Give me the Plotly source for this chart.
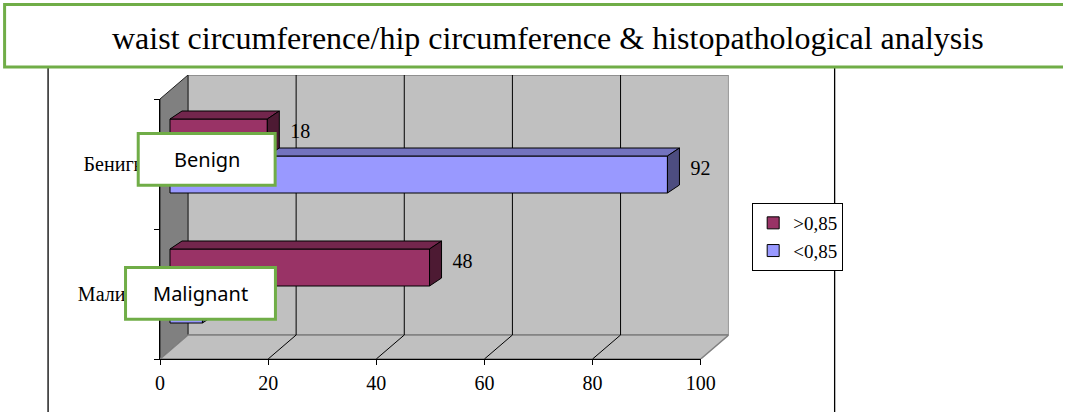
import plotly.graph_objects as go

# ---------------- data ----------------
categories = ["Малигни", "Бенигни"]          # bottom -> top
series_names = [">0,85", "<0,85"]
above_085 = [48, 18]
below_085 = [6, 92]
x_ticks = [0, 20, 40, 60, 80, 100]
box_labels = ["Malignant", "Benign"]
title_text = "waist circumference/hip circumference & histopathological analysis"
hidden_value_labels = [("<0,85", 0)]   # label lies under the "Malignant" box in the original

# ---------------- geometry / style ----------------
W, H = 1078, 412
XS, XO = 0.982, 4.9     # horizontal compensation for the capture
PX_X = 541 / 100.0      # pixels per x unit
PX_Y = 260 / 2.0        # pixels per category unit
WALL_PX = (28, 24)
WDX, WDY = WALL_PX[0] / PX_X, WALL_PX[1] / PX_Y      # wall depth
SDX, SDY = 10 / PX_X, 8 / PX_Y       # bar plane shift
BDX, BDY = 12 / PX_X, 8 / PX_Y       # bar depth
LBL_DX, LBL_DY = 11 / PX_X, 5 / PX_Y # value label offset
BAR_W = 37 / PX_Y

def pxx(p):
    return ((p - XO) / XS) / W

def pxy(p):
    return 1 - p / H

SERIF = "Liberation Serif, Times New Roman, serif"
colors = {
    ">0,85": ("#993366", "#73264D", "#4D1A33"),
    "<0,85": ("#9999FF", "#7373BF", "#4D4D80"),
}

fig = go.Figure()
idx = list(range(len(categories)))

# bars on (x2, y2): the bar plane, shifted into depth
series = [("<0,85", below_085, -BAR_W), (">0,85", above_085, 0.0)]
for name, vals, off in series:
    front, top, side = colors[name]
    fig.add_trace(go.Bar(
        x=vals, y=idx, orientation="h", base=0, width=BAR_W, offset=off,
        marker=dict(color=front, line=dict(color="black", width=1)),
        name=name, legendrank=1 if name == ">0,85" else 2,
        xaxis="x2", yaxis="y2", hoverinfo="skip",
    ))
for name, vals, off in series:
    front, top, side = colors[name]
    for i, v in zip(idx, vals):
        y0 = i + off
        y1 = y0 + BAR_W
        fig.add_trace(go.Scatter(
            x=[0, v, v + BDX, BDX, 0], y=[y1, y1, y1 + BDY, y1 + BDY, y1],
            mode="lines", fill="toself", fillcolor=top,
            line=dict(color="black", width=1), showlegend=False,
            xaxis="x2", yaxis="y2", hoverinfo="skip"))
        fig.add_trace(go.Scatter(
            x=[v, v + BDX, v + BDX, v, v], y=[y0, y0 + BDY, y1 + BDY, y1, y0],
            mode="lines", fill="toself", fillcolor=side,
            line=dict(color="black", width=1), showlegend=False,
            xaxis="x2", yaxis="y2", hoverinfo="skip"))

# value labels
for name, vals, off in series:
    fig.add_trace(go.Scatter(
        x=[v + BDX + LBL_DX for v in vals],
        y=[i + off + BAR_W / 2 + LBL_DY for i in idx],
        mode="text",
        text=["" if (name, i) in hidden_value_labels else str(v) for i, v in zip(idx, vals)],
        textposition="middle right",
        textfont=dict(family=SERIF, size=20, color="black"), cliponaxis=False,
        showlegend=False, xaxis="x2", yaxis="y2", hoverinfo="skip"))

# invisible trace so the front category axis (x3, y3) gets its categories
fig.add_trace(go.Scatter(x=[None] * len(categories), y=categories, mode="markers",
                         marker=dict(opacity=0), showlegend=False,
                         xaxis="x3", yaxis="y3", hoverinfo="skip"))

annotations = []
shapes = []
def poly(pts, close=True):
    return "M " + " L ".join(f"{x},{y}" for x, y in pts) + (" Z" if close else "")

# walls, floor, gridlines on the (x, y) wall system: x in value units, y in category units
shapes.append(dict(type="path", xref="x", yref="y", layer="below",
                   path=poly([(WDX, -0.5 + WDY), (100 + WDX, -0.5 + WDY),
                              (100 + WDX, 1.5 + WDY), (WDX, 1.5 + WDY)]),
                   fillcolor="#C0C0C0", line=dict(color="#808080", width=1.5)))
shapes.append(dict(type="path", xref="x", yref="y", layer="below",
                   path=poly([(0, -0.5), (0, 1.5), (WDX, 1.5 + WDY), (WDX, -0.5 + WDY)]),
                   fillcolor="#808080", line=dict(color="#202020", width=1)))
shapes.append(dict(type="path", xref="x", yref="y", layer="below",
                   path=poly([(0, -0.5), (100, -0.5), (100 + WDX, -0.5 + WDY), (WDX, -0.5 + WDY)]),
                   fillcolor="#C0C0C0", line=dict(color="#808080", width=1.5)))
for t in x_ticks[1:-1]:
    shapes.append(dict(type="line", xref="x", yref="y", layer="below",
                       x0=t + WDX, x1=t + WDX, y0=-0.5 + WDY, y1=1.5 + WDY,
                       line=dict(color="black", width=1)))
    shapes.append(dict(type="line", xref="x", yref="y", layer="below",
                       x0=t, x1=t + WDX, y0=-0.5, y1=-0.5 + WDY,
                       line=dict(color="black", width=1)))

# outer frame lines
for xp in (48, 835):
    shapes.append(dict(type="line", xref="paper", yref="paper",
                       x0=pxx(xp), x1=pxx(xp), y0=0, y1=pxy(68),
                       line=dict(color="black", width=1.3)))

GREEN = "#70AD47"
# title box (open on the right, runs off the page edge)
shapes.append(dict(type="path", xref="paper", yref="paper", layer="above",
                   path=poly([(1.0, pxy(67)), (pxx(4.5), pxy(67)),
                              (pxx(4.5), pxy(4.5)), (1.0, pxy(4.5))], close=False),
                   fillcolor="white", line=dict(color=GREEN, width=3)))
annotations.append(dict(x=pxx(548.5), y=pxy(38), xref="paper", yref="paper",
                        text=title_text, showarrow=False, xanchor="center", yanchor="middle",
                        font=dict(family=SERIF, size=32, color="black")))

# category overlay boxes
boxes = {"Benign": (138.2, 275.2, 133.5, 185.2), "Malignant": (125.5, 275.5, 267.5, 319.2)}
for lab in box_labels:
    x0, x1, y0, y1 = boxes[lab]
    shapes.append(dict(type="rect", xref="paper", yref="paper", layer="above",
                       x0=pxx(x0), x1=pxx(x1), y0=pxy(y1), y1=pxy(y0),
                       fillcolor="white", line=dict(color=GREEN, width=3)))
    annotations.append(dict(x=pxx((x0 + x1) / 2), y=pxy((y0 + y1) / 2), xref="paper", yref="paper",
                            text=lab, showarrow=False, xanchor="center", yanchor="middle",
                            font=dict(family="Noto Sans, sans-serif", size=20, color="black")))

front_x = (160, 701)
front_y = (359, 99)
xdom = [pxx(front_x[0]), pxx(front_x[1])]
ydom = [pxy(front_y[0]), pxy(front_y[1])]
wall_xdom = [pxx(front_x[0]), pxx(front_x[1] + WALL_PX[0])]
wall_ydom = [pxy(front_y[0]), pxy(front_y[1] - WALL_PX[1])]
fig.update_layout(
    width=W, height=H, autosize=False,
    margin=dict(l=0, r=0, t=0, b=0, pad=0),
    paper_bgcolor="white", plot_bgcolor="rgba(0,0,0,0)",
    barmode="overlay",
    showlegend=True,
    legend=dict(x=pxx(752.5), y=pxy(203), xanchor="left", yanchor="top",
                bgcolor="white", bordercolor="black", borderwidth=1,
                font=dict(family=SERIF, size=19, color="black"),
                itemwidth=30, traceorder="normal"),
    # wall / floor coordinate system (hidden)
    xaxis=dict(domain=wall_xdom, range=[0, 100 + WDX], visible=False, fixedrange=True, anchor="y"),
    yaxis=dict(domain=wall_ydom, range=[-0.5, 1.5 + WDY], visible=False, fixedrange=True, anchor="x"),
    # bar plane (hidden)
    xaxis2=dict(domain=xdom, range=[-SDX, 100 - SDX], visible=False, fixedrange=True, anchor="y2"),
    yaxis2=dict(domain=ydom, range=[-0.5 - SDY, 1.5 - SDY], visible=False, fixedrange=True, anchor="x2"),
    # visible front axes
    xaxis3=dict(domain=xdom, range=[0, 100], tickvals=x_ticks, ticks="outside", ticklen=5,
                tickcolor="black", showline=True, linecolor="black", linewidth=1,
                showgrid=False, zeroline=False, fixedrange=True, anchor="y3",
                tickfont=dict(family=SERIF, size=20, color="black"), ticklabelstandoff=1),
    yaxis3=dict(domain=ydom, type="category", categoryorder="array", categoryarray=categories,
                range=[-0.5, 1.5], tickson="boundaries", ticks="outside", ticklen=5,
                tickcolor="black", showline=True, linecolor="black", linewidth=1,
                showgrid=False, zeroline=False, fixedrange=True, anchor="x3",
                tickfont=dict(family=SERIF, size=20, color="black")),
    shapes=shapes,
    annotations=annotations,
)
fig.write_html("out.html", config={"displayModeBar": False},
               post_script="document.body.style.margin='0px';document.body.style.overflow='hidden';")
